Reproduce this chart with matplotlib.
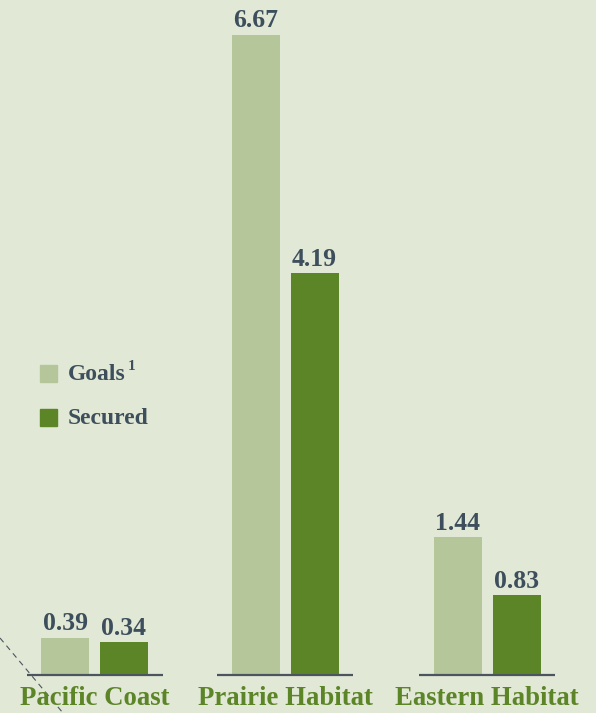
import matplotlib
matplotlib.use("Agg")
import matplotlib.pyplot as plt
from matplotlib.patches import Rectangle

# donnees
categories = ["Pacific Coast", "Prairie Habitat", "Eastern Habitat"]
goals = [0.39, 6.67, 1.44]
secured = [0.34, 4.19, 0.83]
series_names = ["Goals", "Secured"]

bg = "#e1e8d5"
c_goals = "#b5c69a"
c_secured = "#5c8527"
c_text = "#3d4f5c"
c_cat = "#5c8527"
font = "Liberation Serif"

W, H = 596, 713
fig = plt.figure(figsize=(W / 100, H / 100), dpi=100, facecolor=bg)
ax = fig.add_axes([0, 0, 1, 1])
ax.set_facecolor(bg)

# echelle: 96 px par unite, base a y=675 px
ppu = 96.0
base = 675
ax.set_xlim(0, W)
ax.set_ylim(-(H - base) / ppu, base / ppu)
ax.axis("off")

centers = [94.5, 285, 487]
bw = 48
off = 29.5

for i, cat in enumerate(categories):
    xc = centers[i]
    ax.bar(xc - off, goals[i], width=bw, color=c_goals, zorder=2)
    ax.bar(xc + off, secured[i], width=bw, color=c_secured, zorder=2)
    ax.text(xc - off, goals[i] + 0.075, f"{goals[i]:.2f}", ha="center", va="baseline",
            fontsize=18.5, fontweight="bold", color=c_text, family=font)
    ax.text(xc + off, secured[i] + 0.075, f"{secured[i]:.2f}", ha="center", va="baseline",
            fontsize=18.5, fontweight="bold", color=c_text, family=font)
    ax.plot([xc - 68, xc + 68], [0, 0], color="#4a5560", lw=1.6, zorder=3,
            solid_capstyle="butt")
    ax.text(xc, -0.31, cat, ha="center", va="baseline", fontsize=19.3, fontweight="bold",
            color=c_cat, family=font)

# legende
def py(p):
    return (base - p) / ppu

sq = 17
ax.add_patch(Rectangle((40, py(382)), sq, sq / ppu, color=c_goals))
ax.add_patch(Rectangle((40, py(426)), sq, sq / ppu, color=c_secured))
t_goals = ax.text(68, py(375), series_names[0], va="center", ha="left", fontsize=17,
                  fontweight="bold", color=c_text, family=font)
ax.text(68, py(419), series_names[1], va="center", ha="left", fontsize=17,
        fontweight="bold", color=c_text, family=font)

# exposant "1" apres Goals
fig.canvas.draw()
bb = t_goals.get_window_extent()
x_end = ax.transData.inverted().transform((bb.x1, bb.y1))[0]
ax.text(x_end + 1.5, py(367), "1", va="center", ha="left", fontsize=11,
        fontweight="bold", color=c_text, family=font)

# trait pointille decoratif
ax.plot([0, 63], [py(638), py(713)], color="#4a5560", lw=0.8, ls=(0, (5, 4)), zorder=1)

fig.savefig("out.png", dpi=100, facecolor=bg)
